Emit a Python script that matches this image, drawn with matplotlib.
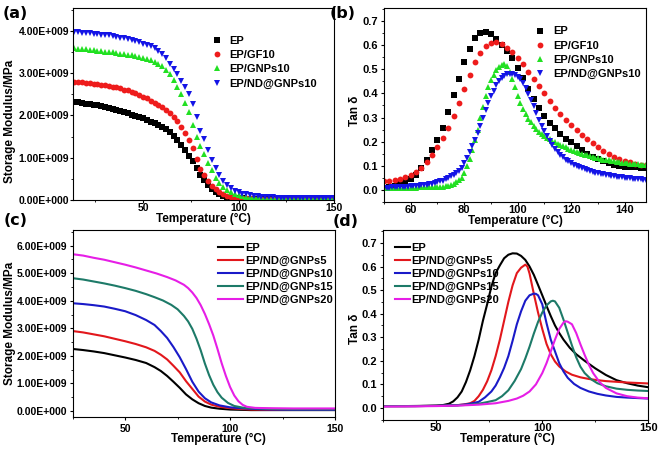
import numpy as np
import matplotlib
matplotlib.use("Agg")
import matplotlib.pyplot as plt
from matplotlib.ticker import FuncFormatter, MultipleLocator

plt.rcParams['font.family'] = ['Liberation Sans', 'DejaVu Sans']
plt.rcParams['font.weight'] = 'bold'
plt.rcParams['axes.labelweight'] = 'bold'

# ---- (a) storage modulus, scatter (values in 1e9 MPa) ----
t_a = np.arange(14, 151, 2)
a_ep = [2.32, 2.31, 2.30, 2.28, 2.27, 2.25, 2.24, 2.22, 2.20, 2.18,
        2.16, 2.13, 2.10, 2.07, 2.05, 2.02, 1.99, 1.96, 1.93, 1.89,
        1.85, 1.81, 1.77, 1.72, 1.67, 1.60, 1.51, 1.41, 1.31, 1.18,
        1.05, 0.92, 0.75, 0.59, 0.47, 0.36, 0.27, 0.20, 0.14, 0.10,
        0.07, 0.055, 0.045, 0.04, 0.036, 0.034, 0.032, 0.031, 0.030, 0.030,
        0.030, 0.030, 0.030, 0.030, 0.030, 0.030, 0.030, 0.030, 0.030, 0.030,
        0.030, 0.030, 0.030, 0.030, 0.030, 0.030, 0.030, 0.030, 0.030]
a_gf = [2.80, 2.79, 2.78, 2.77, 2.76, 2.75, 2.74, 2.73, 2.72, 2.70,
        2.68, 2.66, 2.64, 2.61, 2.59, 2.56, 2.52, 2.48, 2.44, 2.40,
        2.35, 2.30, 2.25, 2.19, 2.13, 2.06, 1.97, 1.87, 1.72, 1.58,
        1.42, 1.22, 0.98, 0.74, 0.58, 0.45, 0.34, 0.26, 0.19, 0.13,
        0.09, 0.07, 0.055, 0.045, 0.04, 0.038, 0.036, 0.035, 0.035, 0.035,
        0.035, 0.035, 0.035, 0.035, 0.035, 0.035, 0.035, 0.035, 0.035, 0.035,
        0.035, 0.035, 0.035, 0.035, 0.035, 0.035, 0.035, 0.035, 0.035]
a_gnp = [3.59, 3.58, 3.57, 3.56, 3.55, 3.54, 3.53, 3.52, 3.51, 3.50,
         3.49, 3.47, 3.46, 3.45, 3.43, 3.42, 3.40, 3.38, 3.36, 3.33,
         3.30, 3.27, 3.22, 3.16, 3.08, 2.97, 2.84, 2.68, 2.50, 2.30,
         2.07, 1.78, 1.49, 1.28, 1.08, 0.88, 0.70, 0.53, 0.41, 0.31,
         0.24, 0.18, 0.14, 0.11, 0.09, 0.08, 0.07, 0.065, 0.06, 0.058,
         0.056, 0.054, 0.052, 0.05, 0.049, 0.048, 0.047, 0.046, 0.045, 0.045,
         0.044, 0.044, 0.043, 0.043, 0.042, 0.042, 0.042, 0.041, 0.041]
a_nd = [3.98, 3.97, 3.96, 3.95, 3.94, 3.93, 3.92, 3.91, 3.90, 3.89,
        3.87, 3.86, 3.84, 3.82, 3.80, 3.78, 3.76, 3.73, 3.70, 3.67,
        3.63, 3.59, 3.53, 3.46, 3.36, 3.22, 3.10, 2.97, 2.82, 2.66,
        2.50, 2.28, 1.97, 1.64, 1.45, 1.18, 0.95, 0.76, 0.58, 0.45,
        0.35, 0.28, 0.22, 0.18, 0.15, 0.13, 0.11, 0.095, 0.085, 0.075,
        0.068, 0.063, 0.059, 0.056, 0.054, 0.052, 0.051, 0.050, 0.049, 0.048,
        0.047, 0.047, 0.046, 0.046, 0.045, 0.045, 0.045, 0.044, 0.044]

# ---- (b) tan delta, scatter ----
t_b2 = np.arange(50, 149, 2)
b_ep = [0.010, 0.013, 0.018, 0.024, 0.033, 0.045, 0.063, 0.090, 0.125, 0.165,
        0.205, 0.258, 0.325, 0.395, 0.458, 0.530, 0.585, 0.628, 0.652, 0.656,
        0.645, 0.625, 0.600, 0.575, 0.545, 0.505, 0.465, 0.420, 0.378, 0.338,
        0.305, 0.278, 0.255, 0.232, 0.212, 0.198, 0.182, 0.165, 0.150, 0.138,
        0.127, 0.118, 0.110, 0.104, 0.099, 0.096, 0.094, 0.093, 0.092, 0.091]
b_gf = [0.035, 0.037, 0.040, 0.045, 0.052, 0.062, 0.075, 0.092, 0.115, 0.145,
        0.178, 0.215, 0.258, 0.305, 0.360, 0.420, 0.475, 0.530, 0.568, 0.595,
        0.608, 0.612, 0.603, 0.590, 0.570, 0.545, 0.520, 0.490, 0.460, 0.430,
        0.400, 0.370, 0.340, 0.315, 0.290, 0.268, 0.247, 0.228, 0.210, 0.193,
        0.177, 0.162, 0.149, 0.138, 0.128, 0.120, 0.114, 0.109, 0.105, 0.102]
t_b1 = np.arange(50, 149, 1)
b_gnp = [0.008, 0.008, 0.008, 0.008, 0.008, 0.009, 0.009, 0.009, 0.009, 0.010,
         0.010, 0.010, 0.010, 0.011, 0.011, 0.011, 0.011, 0.012, 0.012, 0.012,
         0.012, 0.013, 0.014, 0.016, 0.018, 0.021, 0.025, 0.031, 0.040, 0.048,
         0.070, 0.100, 0.130, 0.165, 0.205, 0.250, 0.300, 0.345, 0.390, 0.425,
         0.455, 0.478, 0.497, 0.510, 0.518, 0.522, 0.512, 0.490, 0.460, 0.425,
         0.390, 0.360, 0.335, 0.315, 0.295, 0.280, 0.265, 0.252, 0.242, 0.233,
         0.225, 0.217, 0.210, 0.204, 0.198, 0.192, 0.186, 0.181, 0.176, 0.171,
         0.166, 0.162, 0.158, 0.154, 0.150, 0.146, 0.143, 0.140, 0.137, 0.134,
         0.131, 0.129, 0.126, 0.124, 0.122, 0.120, 0.118, 0.116, 0.114, 0.112,
         0.111, 0.110, 0.109, 0.108, 0.107, 0.106, 0.105, 0.104, 0.104]
b_nd = [0.010, 0.010, 0.010, 0.011, 0.011, 0.012, 0.012, 0.013, 0.013, 0.014,
        0.015, 0.016, 0.017, 0.018, 0.019, 0.020, 0.022, 0.024, 0.026, 0.029,
        0.032, 0.035, 0.039, 0.044, 0.050, 0.056, 0.063, 0.071, 0.080, 0.092,
        0.110, 0.132, 0.156, 0.181, 0.208, 0.237, 0.267, 0.298, 0.330, 0.360,
        0.388, 0.412, 0.433, 0.450, 0.463, 0.473, 0.479, 0.482, 0.482, 0.478,
        0.470, 0.458, 0.442, 0.422, 0.399, 0.373, 0.346, 0.318, 0.291, 0.266,
        0.243, 0.222, 0.203, 0.186, 0.171, 0.158, 0.146, 0.135, 0.126, 0.118,
        0.111, 0.105, 0.099, 0.094, 0.089, 0.085, 0.081, 0.078, 0.075, 0.072,
        0.069, 0.067, 0.064, 0.062, 0.060, 0.058, 0.056, 0.055, 0.053, 0.052,
        0.051, 0.050, 0.049, 0.047, 0.046, 0.045, 0.044, 0.043, 0.042]

# ---- (c) storage modulus, lines (values in 1e9 MPa) ----
c_t_ep = [25, 30, 35, 40, 45, 50, 55, 60, 64, 67, 70, 73, 76, 79, 82, 85, 88, 91, 95, 100, 105, 110, 120, 130, 140, 150]
c_ep = [2.25, 2.21, 2.16, 2.10, 2.02, 1.94, 1.85, 1.74, 1.59, 1.45, 1.27, 1.06, 0.84, 0.60, 0.42, 0.28, 0.18, 0.12, 0.08, 0.05, 0.04, 0.03, 0.03, 0.03, 0.03, 0.03]
c_t_5 = [25, 30, 35, 40, 45, 50, 55, 60, 64, 67, 70, 73, 76, 79, 82, 85, 88, 91, 95, 100, 105, 110, 120, 130, 140, 150]
c_5 = [2.90, 2.85, 2.78, 2.71, 2.62, 2.53, 2.43, 2.31, 2.18, 2.04, 1.87, 1.64, 1.40, 1.08, 0.80, 0.52, 0.34, 0.23, 0.15, 0.10, 0.07, 0.05, 0.04, 0.04, 0.04, 0.04]
c_t_10 = [25, 30, 35, 40, 45, 50, 55, 60, 64, 67, 70, 73, 76, 79, 82, 85, 88, 91, 95, 100, 105, 110, 115, 120, 130, 140, 150]
c_10 = [3.91, 3.88, 3.84, 3.79, 3.71, 3.62, 3.48, 3.30, 3.12, 2.90, 2.65, 2.32, 1.95, 1.52, 1.06, 0.70, 0.46, 0.31, 0.20, 0.13, 0.10, 0.08, 0.06, 0.05, 0.04, 0.04, 0.04]
c_t_15 = [25, 30, 35, 40, 45, 50, 55, 60, 64, 68, 72, 75, 78, 80, 82, 84, 86, 88, 90, 92, 94, 96, 99, 102, 106, 110, 120, 130, 140, 150]
c_15 = [4.82, 4.77, 4.70, 4.63, 4.55, 4.46, 4.36, 4.24, 4.13, 4.01, 3.85, 3.69, 3.45, 3.25, 2.98, 2.62, 2.20, 1.72, 1.30, 0.95, 0.68, 0.48, 0.29, 0.18, 0.12, 0.10, 0.07, 0.06, 0.06, 0.06]
c_t_20 = [25, 30, 35, 40, 45, 50, 55, 60, 65, 70, 74, 78, 80, 82, 84, 86, 88, 90, 92, 94, 96, 98, 100, 102, 104, 106, 108, 112, 118, 130, 140, 150]
c_20 = [5.69, 5.64, 5.56, 5.49, 5.40, 5.31, 5.21, 5.10, 4.99, 4.86, 4.74, 4.58, 4.46, 4.30, 4.10, 3.84, 3.52, 3.15, 2.74, 2.25, 1.73, 1.27, 0.87, 0.56, 0.35, 0.22, 0.15, 0.11, 0.10, 0.09, 0.09, 0.09]

# ---- (d) tan delta, lines ----
d_t_ep = [25, 35, 45, 50, 53, 56, 58, 60, 62, 64, 66, 68, 70, 72, 74, 76, 78, 80, 82, 84, 86, 88, 90, 92, 94, 96, 98, 100,
          102, 104, 106, 108, 110, 113, 116, 120, 125, 130, 135, 140, 145, 150]
d_ep = [0.008, 0.008, 0.009, 0.010, 0.012, 0.018, 0.028, 0.045, 0.070, 0.110, 0.160, 0.220, 0.290, 0.370, 0.440, 0.515,
        0.572, 0.605, 0.635, 0.650, 0.656, 0.655, 0.645, 0.628, 0.600, 0.565, 0.522, 0.478, 0.433, 0.390, 0.350, 0.318,
        0.290, 0.255, 0.228, 0.200, 0.168, 0.140, 0.118, 0.105, 0.095, 0.088]
d_t_5 = [25, 40, 50, 55, 60, 63, 66, 68, 70, 72, 74, 76, 78, 80, 82, 84, 86, 88, 90, 92, 93, 94, 96, 98, 100, 102, 104,
         106, 108, 111, 114, 118, 122, 126, 130, 135, 140, 145, 150]
d_5 = [0.008, 0.008, 0.009, 0.010, 0.012, 0.015, 0.020, 0.030, 0.050, 0.077, 0.113, 0.160, 0.220, 0.290, 0.370, 0.450,
       0.520, 0.572, 0.595, 0.608, 0.600, 0.570, 0.485, 0.405, 0.335, 0.272, 0.228, 0.197, 0.176, 0.155, 0.141, 0.130,
       0.123, 0.118, 0.114, 0.111, 0.108, 0.106, 0.104]
d_t_10 = [25, 40, 50, 60, 64, 67, 70, 73, 76, 78, 80, 82, 84, 86, 88, 90, 92, 94, 96, 97, 98, 100, 102, 104, 106, 108,
          110, 112, 115, 118, 122, 126, 130, 135, 140, 145, 150]
d_10 = [0.008, 0.008, 0.009, 0.012, 0.015, 0.020, 0.026, 0.045, 0.070, 0.095, 0.130, 0.170, 0.220, 0.285, 0.355, 0.410,
        0.455, 0.478, 0.485, 0.484, 0.478, 0.440, 0.360, 0.290, 0.240, 0.190, 0.155, 0.128, 0.102, 0.085, 0.070, 0.060,
        0.053, 0.047, 0.044, 0.042, 0.040]
d_t_15 = [25, 40, 50, 60, 66, 70, 74, 78, 81, 84, 87, 90, 92, 94, 96, 98, 100, 102, 104, 105, 106, 108, 110, 112, 114,
          116, 118, 120, 123, 126, 130, 135, 140, 145, 150]
d_15 = [0.008, 0.008, 0.009, 0.011, 0.014, 0.018, 0.025, 0.033, 0.050, 0.075, 0.115, 0.165, 0.210, 0.260, 0.315, 0.365,
        0.405, 0.435, 0.452, 0.455, 0.452, 0.425, 0.375, 0.320, 0.265, 0.215, 0.175, 0.148, 0.122, 0.105, 0.092, 0.082,
        0.077, 0.074, 0.072]
d_t_20 = [25, 40, 50, 60, 70, 78, 84, 88, 91, 94, 97, 100, 102, 104, 106, 108, 110, 111, 112, 114, 116, 118, 120, 122,
          124, 127, 130, 135, 140, 145, 150]
d_20 = [0.006, 0.007, 0.008, 0.010, 0.014, 0.020, 0.030, 0.040, 0.052, 0.070, 0.100, 0.148, 0.190, 0.240, 0.290, 0.335,
        0.362, 0.368, 0.366, 0.355, 0.318, 0.270, 0.225, 0.183, 0.148, 0.110, 0.085, 0.062, 0.050, 0.044, 0.041]

labels_ab = ['EP', 'EP/GF10', 'EP/GNPs10', 'EP/ND@GNPs10']
labels_cd = ['EP', 'EP/ND@GNPs5', 'EP/ND@GNPs10', 'EP/ND@GNPs15', 'EP/ND@GNPs20']
col_ab = ['black', '#ee1c1c', '#22e022', '#1414e6']
col_cd = ['black', '#e2171c', '#1a1ac8', '#1d7a68', '#e61ee6']


def sci_fmt(v, pos):
    if abs(v) < 1:
        return "0.00E+000"
    e = int(np.floor(np.log10(abs(v))))
    return f"{v / 10 ** e:.2f}E+{e:03d}"


def style(ax, fs=7.5, xpad=0.5, ypad=0.5):
    ax.tick_params(which='major', direction='out', length=2.2, width=0.8, labelsize=fs, pad=xpad)
    ax.tick_params(axis='y', which='major', pad=ypad)
    ax.tick_params(which='minor', direction='out', length=1.4, width=0.6)
    for lab in ax.get_xticklabels() + ax.get_yticklabels():
        lab.set_fontweight('bold')
    for s in ax.spines.values():
        s.set_linewidth(0.8)


fig = plt.figure(figsize=(6.58, 4.49), dpi=100)

# (a)
ax = fig.add_axes([0.1102, 0.5546, 0.3974, 0.4276])
mk = ['s', 'o', '^', 'v']
ms = [3.8, 4.2, 4.6, 4.6]
for ys, c, m, s, lab in zip([a_ep, a_gf, a_gnp, a_nd], col_ab, mk, ms, labels_ab):
    ax.plot(t_a, np.array(ys) * 1e9, ls='none', marker=m, ms=s, color=c, mec=c, mew=0, label=lab)
ax.set_xlim(13, 150)
ax.set_ylim(0, 4.54e9)
ax.set_xticks([50, 100, 150])
ax.xaxis.set_minor_locator(MultipleLocator(25))
ax.set_yticks(np.arange(0, 4.1e9, 1e9))
ax.yaxis.set_minor_locator(MultipleLocator(0.5e9))
ax.yaxis.set_major_formatter(FuncFormatter(sci_fmt))
style(ax, xpad=0, ypad=0.3)
ax.set_xlabel('Temperature (°C)', fontsize=8.5, va='center')
ax.xaxis.set_label_coords(0.5, -0.1)
ax.set_ylabel('Storage Modulus/MPa', fontsize=8.5, va='center')
ax.yaxis.set_label_coords(-0.239, 0.41)
ax.legend(loc='upper left', bbox_to_anchor=(0.526, 0.855), frameon=False,
          handlelength=1.2, handletextpad=0.55, labelspacing=0.38, borderpad=0, borderaxespad=0,
          numpoints=1, prop={'weight': 'bold', 'size': 8})

# (b)
ax = fig.add_axes([0.5836, 0.5501, 0.3982, 0.4321])
ax.plot(t_b2, b_ep, ls='none', marker='s', ms=3.8, color=col_ab[0], mew=0, label=labels_ab[0])
ax.plot(t_b2, b_gf, ls='none', marker='o', ms=4.2, color=col_ab[1], mew=0, label=labels_ab[1])
ax.plot(t_b1, b_gnp, ls='none', marker='^', ms=4.4, color=col_ab[2], mew=0, label=labels_ab[2])
ax.plot(t_b1, b_nd, ls='none', marker='v', ms=4.4, color=col_ab[3], mew=0, label=labels_ab[3])
ax.set_xlim(50, 148)
ax.set_ylim(-0.05, 0.754)
ax.set_xticks([60, 80, 100, 120, 140])
ax.xaxis.set_minor_locator(MultipleLocator(10))
ax.set_yticks(np.arange(0, 0.71, 0.1))
ax.yaxis.set_major_formatter(FuncFormatter(lambda v, p: f"{v:.1f}"))
ax.yaxis.set_minor_locator(MultipleLocator(0.05))
style(ax, fs=8, xpad=0, ypad=2)
ax.set_xlabel('Temperature (°C)', fontsize=8.5, va='center')
ax.xaxis.set_label_coords(0.5, -0.1)
ax.set_ylabel('Tan δ', fontsize=8.5, va='center')
ax.yaxis.set_label_coords(-0.11, 0.47)
ax.legend(loc='upper left', bbox_to_anchor=(0.57, 0.905), frameon=False,
          handlelength=1.2, handletextpad=0.55, labelspacing=0.38, borderpad=0, borderaxespad=0,
          numpoints=1, prop={'weight': 'bold', 'size': 8})

# (c)
ax = fig.add_axes([0.1105, 0.0713, 0.3986, 0.4165])
for tt, ys, c, lab in zip([c_t_ep, c_t_5, c_t_10, c_t_15, c_t_20], [c_ep, c_5, c_10, c_15, c_20], col_cd, labels_cd):
    ax.plot(tt, np.array(ys) * 1e9, color=c, lw=1.5, label=lab)
ax.set_xlim(25, 150)
ax.set_ylim(-0.22e9, 6.57e9)
ax.set_xticks([50, 100, 150])
ax.xaxis.set_minor_locator(MultipleLocator(25))
ax.set_yticks(np.arange(0, 6.1e9, 1e9))
ax.yaxis.set_minor_locator(MultipleLocator(0.5e9))
ax.yaxis.set_major_formatter(FuncFormatter(sci_fmt))
style(ax, xpad=2.5, ypad=2)
ax.set_xlabel('Temperature (°C)', fontsize=8.5, va='center')
ax.xaxis.set_label_coords(0.554, -0.12)
ax.set_ylabel('Storage Modulus/MPa', fontsize=8.5, va='center')
ax.yaxis.set_label_coords(-0.239, 0.5)
ax.legend(loc='upper left', bbox_to_anchor=(0.554, 0.93), frameon=False,
          handlelength=2.25, handletextpad=0.2, labelspacing=0.25, borderpad=0, borderaxespad=0,
          prop={'weight': 'bold', 'size': 8})

# (d)
ax = fig.add_axes([0.5825, 0.0646, 0.4027, 0.4232])
for tt, ys, c, lab in zip([d_t_ep, d_t_5, d_t_10, d_t_15, d_t_20], [d_ep, d_5, d_10, d_15, d_20], col_cd, labels_cd):
    ax.plot(tt, ys, color=c, lw=1.5, label=lab)
ax.set_xlim(25, 150)
ax.set_ylim(-0.051, 0.755)
ax.set_xticks([50, 100, 150])
ax.xaxis.set_minor_locator(MultipleLocator(25))
ax.set_yticks(np.arange(0, 0.71, 0.1))
ax.yaxis.set_major_formatter(FuncFormatter(lambda v, p: f"{v:.1f}"))
ax.yaxis.set_minor_locator(MultipleLocator(0.05))
style(ax, fs=8, xpad=0, ypad=2)
ax.set_xlabel('Temperature (°C)', fontsize=8.5, va='center')
ax.xaxis.set_label_coords(0.467, -0.1)
ax.set_ylabel('Tan δ', fontsize=8.5, va='center')
ax.yaxis.set_label_coords(-0.106, 0.48)
ax.legend(loc='upper left', bbox_to_anchor=(0.044, 0.93), frameon=False,
          handlelength=1.4, handletextpad=0.1, labelspacing=0.25, borderpad=0, borderaxespad=0,
          prop={'weight': 'bold', 'size': 8})

# panel letters
for x, y, s in [(0.004, 0.971, '(a)'), (0.5015, 0.971, '(b)'), (0.006, 0.51, '(c)'), (0.506, 0.506, '(d)')]:
    fig.text(x, y, s, fontsize=11.5, fontweight='bold', va='center', ha='left', family='DejaVu Sans')

fig.savefig('out.png', dpi=100)
